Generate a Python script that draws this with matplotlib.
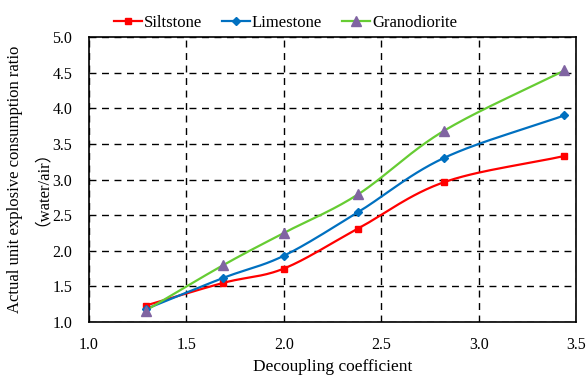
import numpy as np
import matplotlib
matplotlib.use("Agg")
import matplotlib.pyplot as plt

plt.rcParams['font.family'] = ['Liberation Serif', 'Noto Sans CJK SC']
plt.rcParams['font.size'] = 11.5

decoupling = [1.29, 1.69, 2.0, 2.38, 2.82, 3.44]
siltstone = [1.23, 1.55, 1.75, 2.31, 2.96, 3.33]
limestone = [1.18, 1.62, 1.93, 2.54, 3.30, 3.90]
granodiorite = [1.16, 1.80, 2.25, 2.79, 3.68, 4.53]


def smooth(x, y, n=30):
    # catmull-rom through the points, like excel's smoothed line
    x = np.asarray(x, float)
    y = np.asarray(y, float)
    px = np.concatenate([[2 * x[0] - x[1]], x, [2 * x[-1] - x[-2]]])
    py = np.concatenate([[2 * y[0] - y[1]], y, [2 * y[-1] - y[-2]]])
    xs, ys = [], []
    t = np.linspace(0, 1, n)
    for i in range(1, len(px) - 2):
        for p, out in ((px, xs), (py, ys)):
            p0, p1, p2, p3 = p[i - 1], p[i], p[i + 1], p[i + 2]
            out.extend(0.5 * (2 * p1 + (-p0 + p2) * t
                              + (2 * p0 - 5 * p1 + 4 * p2 - p3) * t ** 2
                              + (-p0 + 3 * p1 - 3 * p2 + p3) * t ** 3))
    return xs, ys


fig = plt.figure(figsize=(5.86, 3.76), dpi=100)
ax = fig.add_axes([0.152, 0.1436, 0.831, 0.758])

series = [
    ("Siltstone", siltstone, '#FF0000', 's', '#FF0000', 5),
    ("Limestone", limestone, '#0070C0', 'D', '#0070C0', 4.5),
    ("Granodiorite", granodiorite, '#66CC33', '^', '#8064A2', 7),
]
handles = []
for name, vals, col, mk, mcol, ms in series:
    sx, sy = smooth(decoupling, vals)
    ax.plot(sx, sy, color=col, lw=1.6, zorder=3)
    ax.plot(decoupling, vals, ls='none', marker=mk, color=mcol, ms=ms, zorder=4)
    h, = ax.plot([], [], color=col, lw=1.6, marker=mk, mfc=mcol, mec=mcol, ms=ms)
    handles.append(h)

ax.set_xlim(1.0, 3.5)
ax.set_ylim(1.0, 5.0)
ax.set_xticks(np.arange(1.0, 3.51, 0.5))
ax.set_yticks(np.arange(1.0, 5.01, 0.5))
ax.set_xticklabels([f"{v:.1f}" for v in np.arange(1.0, 3.51, 0.5)])
ax.set_yticklabels([f"{v:.1f}" for v in np.arange(1.0, 5.01, 0.5)])
ax.tick_params(axis='x', length=0, pad=11)
ax.tick_params(axis='y', length=0, pad=12)
ax.grid(True, color='black', ls=(0, (5, 4)), lw=1.0)
for s in ax.spines.values():
    s.set_linewidth(1.2)

ax.set_xlabel("Decoupling coefficient", fontsize=12.5, labelpad=4)
ax.set_ylabel("Actual unit explosive consumption ratio\n（water/air）", fontsize=12, labelpad=8)

fig.legend(handles, ["Siltstone", "Limestone", "Granodiorite"], loc='upper center',
           bbox_to_anchor=(0.487, 1.0), ncol=3, frameon=False, fontsize=12,
           handlelength=1.7, handletextpad=0.1, columnspacing=1.2)

fig.savefig("out.png", dpi=100)
